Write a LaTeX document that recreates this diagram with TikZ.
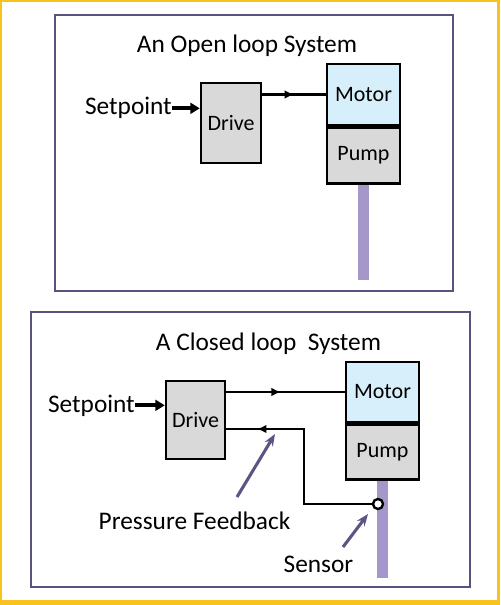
\documentclass[tikz,border=0pt]{standalone}
\usepackage{fontspec}
\setmainfont{Carlito}
\usepackage{xcolor}
\usetikzlibrary{positioning,calc,arrows.meta,decorations.markings}

\definecolor{edgeyellow}{HTML}{F9C31E}
\definecolor{framecol}{HTML}{57527E}
\definecolor{motorblue}{HTML}{D7EEFB}
\definecolor{boxgray}{HTML}{D9D9D9}
\definecolor{shaftcol}{HTML}{A597C9}
\definecolor{pointcol}{HTML}{5B5585}

\begin{document}
\begin{tikzpicture}[
    x=0.75pt,y=-0.75pt,
    big/.style={font=\fontsize{19}{22}\selectfont,inner sep=0pt},
    box/.style={draw=black,line width=1.8pt,fill=boxgray,font=\fontsize{16.5}{19}\selectfont,inner sep=0pt},
    motor/.style={box,fill=motorblue,minimum width=54.75pt},
    pump/.style={box,minimum width=54.75pt},
    shaft/.style={fill=shaftcol,draw=none,minimum width=8.25pt,inner sep=0pt},
    frame/.style={draw=framecol,line width=1.6pt},
    wire/.style={line width=1.6pt},
    midarrow/.style={postaction={decorate},decoration={markings,
        mark=at position #1 with {\arrow{Latex[length=7pt,width=6.5pt]}}}},
    pointer/.style={-{Stealth[length=9pt,width=7pt]},draw=pointcol,line width=2.3pt}
  ]
  % background and frames
  \fill[edgeyellow] (0,0) rectangle (500,605);
  \fill[white] (2,2) rectangle (497,600);
  \draw[frame] (55,15) rectangle (453,291);
  \draw[frame] (31,312) rectangle (470,587);

  % open loop
  \node[big,anchor=base] (title1) at (247,53) {An Open loop System};
  \node[box,minimum width=45pt,minimum height=60pt] (drive1) at (231,123) {Drive};
  \node[motor,minimum height=45.75pt] (motor1) at (363.5,94.5) {Motor};
  \node[pump,minimum height=42pt,below=0pt of motor1] (pump1) {Pump};
  \node[shaft,minimum height=71.25pt,below=0pt of pump1] (shaft1) {};
  \node[big,anchor=base east] (set1) at (172,115) {Setpoint};
  \draw[-{Triangle[length=7pt,width=8pt]},line width=3pt] (set1.east) -- (set1.east -| drive1.west);
  \draw[wire,midarrow=0.5] (drive1.east |- motor1.west) -- (motor1.west);

  % closed loop
  \node[big,anchor=base] (title2) at (268.5,350) {A Closed loop\ \ System};
  \node[box,minimum width=44.25pt,minimum height=58.5pt] (drive2) at (195.5,420) {Drive};
  \node[motor,minimum height=45pt] (motor2) at (382.5,392) {Motor};
  \node[pump,minimum height=41.25pt,below=0pt of motor2] (pump2) {Pump};
  \node[shaft,minimum height=72.75pt,below=0pt of pump2] (shaft2) {};
  \node[big,anchor=base east] (set2) at (135,412) {Setpoint};
  \node[circle,draw=black,line width=1.8pt,fill=white,minimum size=7.5pt,inner sep=0pt] (sensor) at (378,504) {};
  \coordinate (fbturn) at (304,429);
  \draw[-{Triangle[length=7pt,width=8pt]},line width=3pt] (set2.east) -- (set2.east -| drive2.west);
  \draw[wire,midarrow=0.46] (drive2.east |- motor2.west) -- (motor2.west);
  \draw[wire,midarrow=0.86] (sensor.west) -| (fbturn) -- (fbturn -| drive2.east);

  % labels with pointers
  \node[big,anchor=base] (fblabel) at (194.5,529) {Pressure Feedback};
  \node[big,anchor=base] (senslabel) at (318.5,572) {Sensor};
  \coordinate (fbtail) at (237,497);
  \coordinate (fbtip) at (275,434);
  \coordinate (senstail) at (343,547);
  \coordinate (senstip) at (368,514);
  \draw[pointer] (fbtail) -- (fbtip);
  \draw[pointer] (senstail) -- (senstip);
\end{tikzpicture}
\end{document}
